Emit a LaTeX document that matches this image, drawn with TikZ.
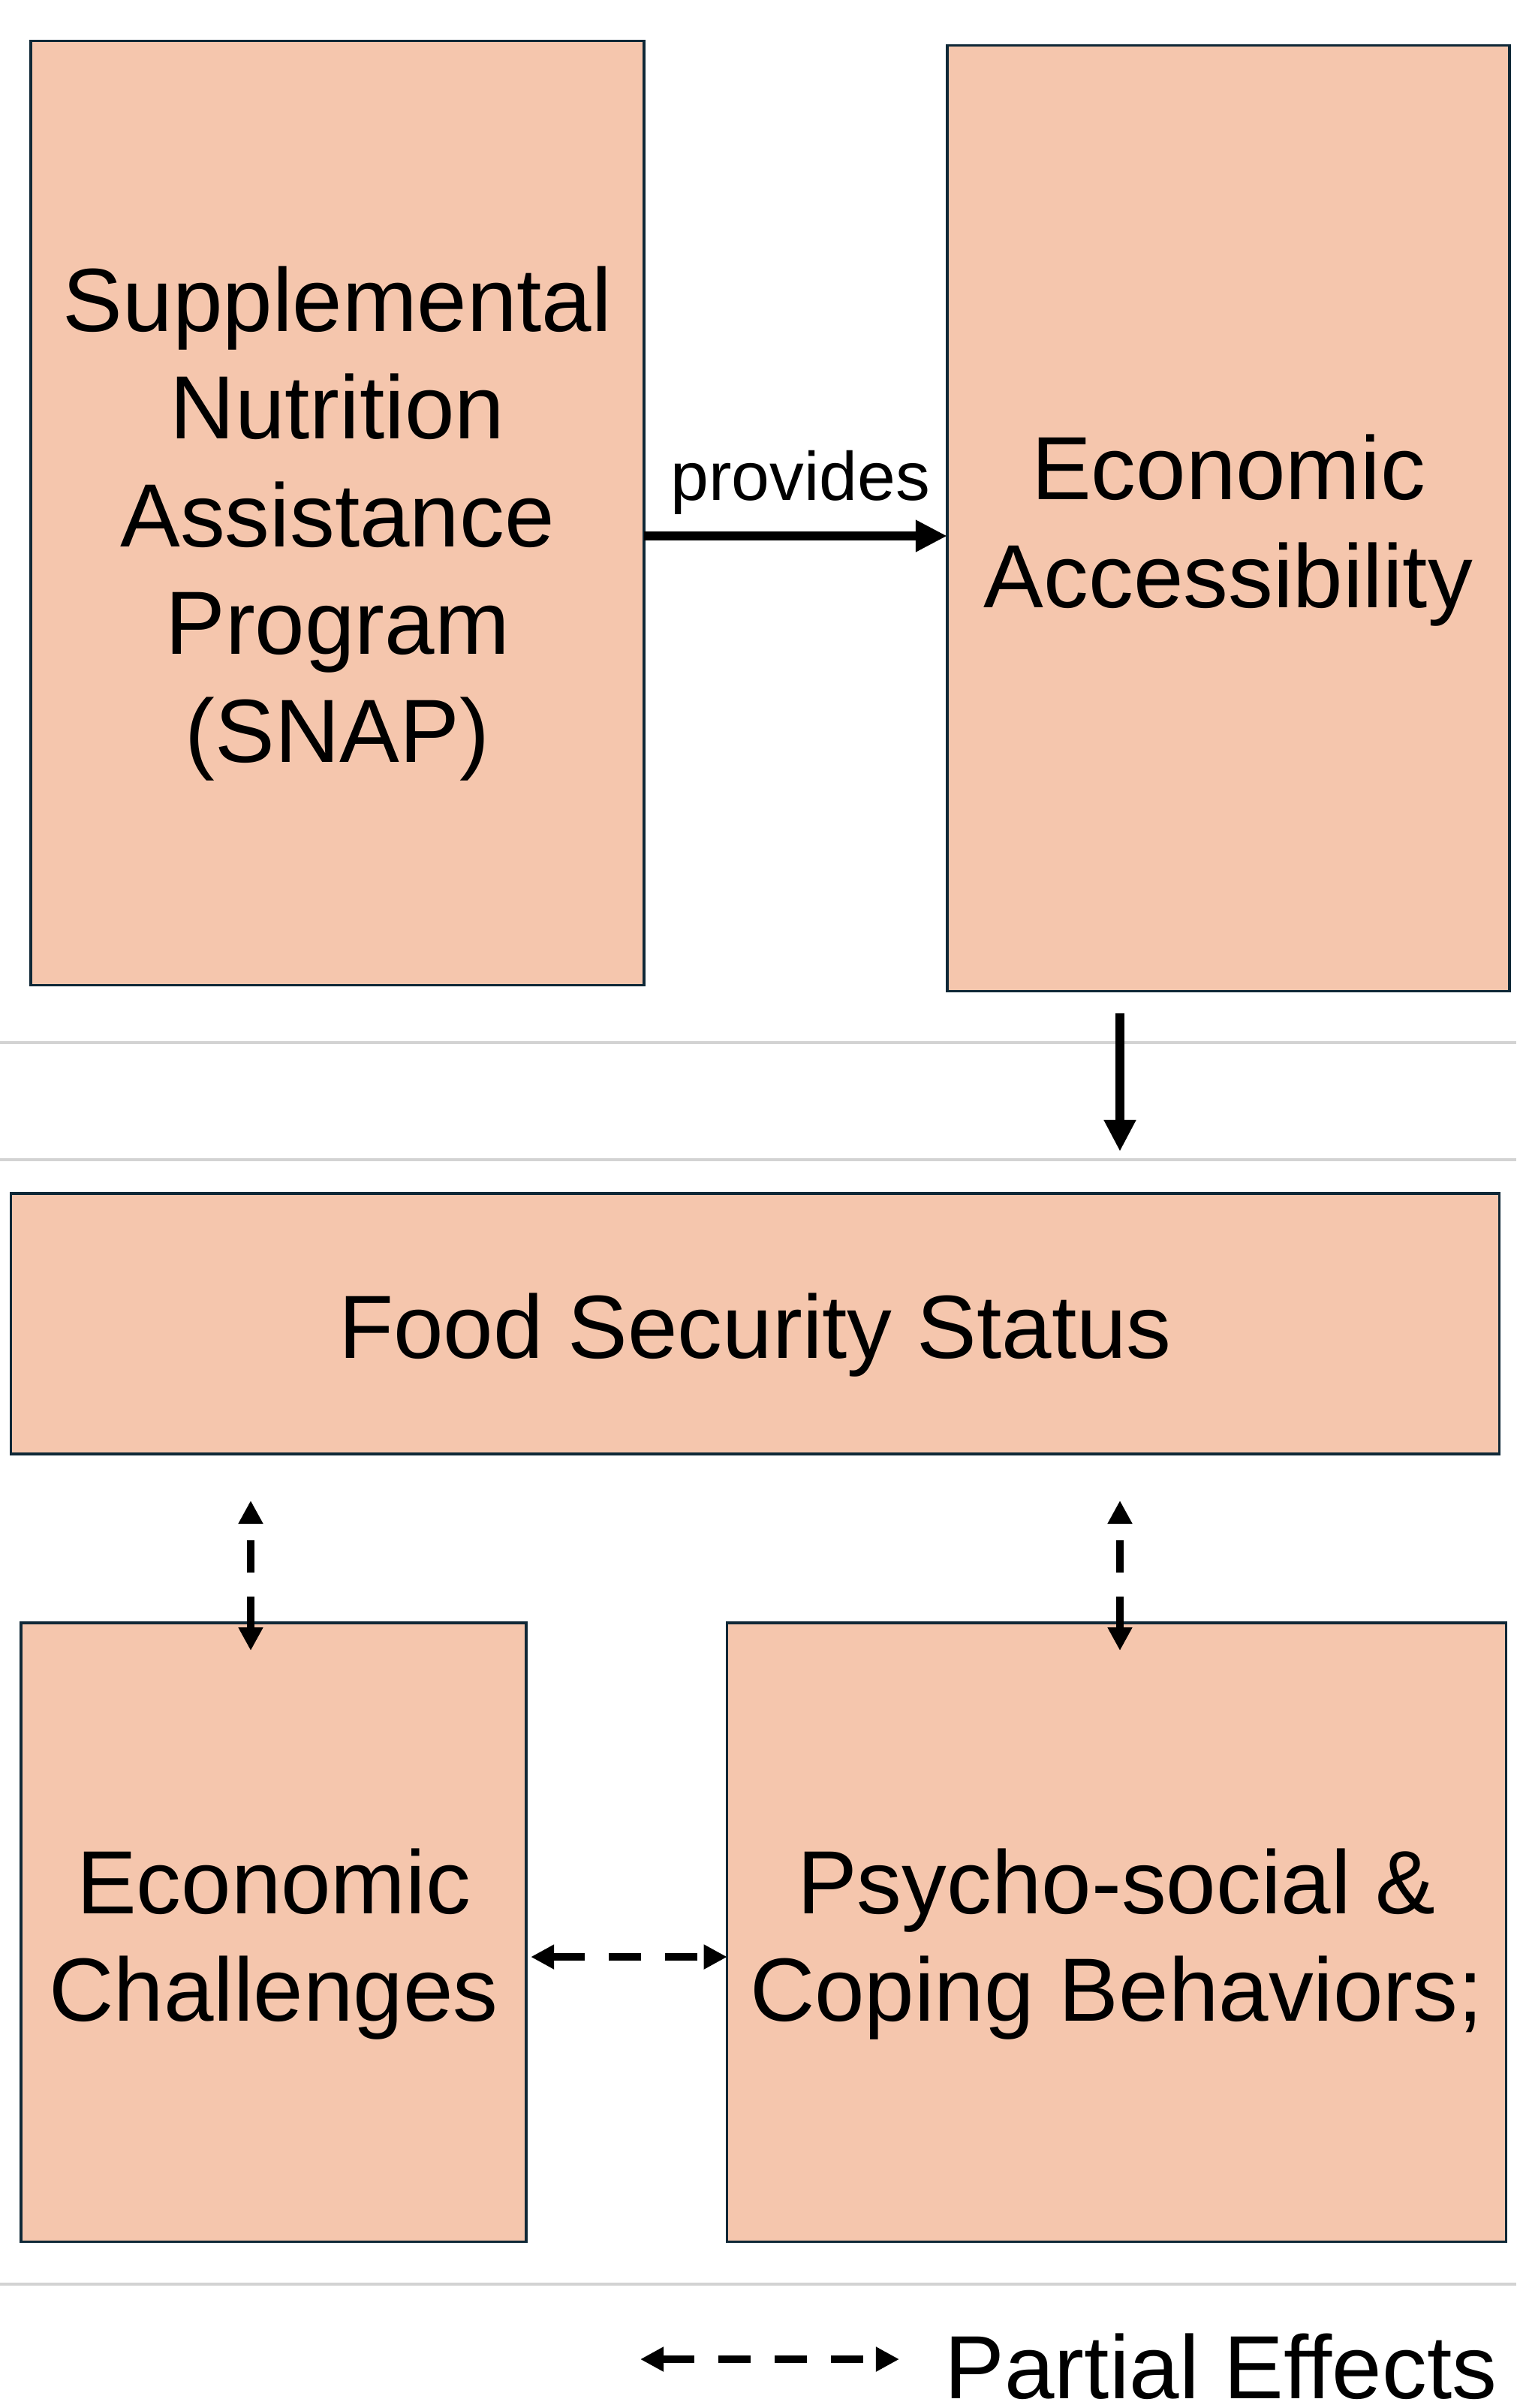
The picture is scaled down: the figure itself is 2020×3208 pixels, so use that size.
\documentclass[tikz,border=0pt]{standalone}
\usepackage{fontspec}
\setmainfont{Liberation Sans}
\usetikzlibrary{arrows.meta,calc}
\definecolor{boxfill}{HTML}{F5C6AD}
\definecolor{boxline}{HTML}{0F2837}
\definecolor{sepgrey}{HTML}{D3D3D3}
\begin{document}
\begin{tikzpicture}[x=0.01cm,y=-0.01cm,
  box/.style={draw=boxline,fill=boxfill,line width=0.035cm,inner sep=0pt,outer sep=0pt},
  boxtext/.style={font=\fontsize{34}{40.8}\selectfont,align=center,inner sep=0pt,text=black},
  solidarrow/.style={line width=0.12cm,-{Triangle[length=0.42cm,width=0.40cm]}},
  partial/.style={line width=0.10cm,dash pattern=on 0.43cm off 0.32cm,
    {Triangle[length=0.31cm,width=0.31cm]}-{Triangle[length=0.31cm,width=0.31cm]}},
  sepline/.style={draw=sepgrey,line width=0.04cm}]
\fill[white] (0,0) rectangle (2020,3208);
\useasboundingbox (0,0) rectangle (2020,3208);

% separator lines
\draw[sepline] (0,1389) -- (2020,1389);
\draw[sepline] (0,1545) -- (2020,1545);
\draw[sepline] (0,3043) -- (2020,3043);

% boxes
\node[box,minimum width=8.17cm,minimum height=12.57cm] (snap) at (449.5,683.5) {};
\node[boxtext] (snaptext) at ([yshift=-0.14cm]snap.center) {Supplemental\\Nutrition\\Assistance\\Program\\(SNAP)};

\node[box,minimum width=7.49cm,minimum height=12.59cm] (ea) at (1636.5,690.5) {};
\node[boxtext] (eatext) at ([yshift=-0.16cm]ea.center) {Economic\\Accessibility};

\node[box,minimum width=19.82cm,minimum height=3.47cm] (food) at (1006,1763.5) {};
\node[boxtext] (foodtext) at ([yshift=-0.15cm]food.center) {Food Security Status};

\node[box,minimum width=6.73cm,minimum height=8.24cm] (econ) at (364.5,2574) {};
\node[boxtext] (econtext) at ([yshift=-0.16cm]econ.center) {Economic\\Challenges};

\node[box,minimum width=10.37cm,minimum height=8.24cm] (psy) at (1487.5,2574) {};
\node[boxtext] (psytext) at ([yshift=-0.16cm]psy.center) {Psycho-social \&\\Coping Behaviors;};

% provides arrow
\coordinate (pa) at ([yshift=-0.305cm]snap.east);
\draw[solidarrow] (pa) -- (pa -| ea.west)
  node[midway,anchor=base,yshift=0.48cm,xshift=0.06cm,inner sep=0pt,
       font=\fontsize{26}{31}\selectfont] (provlabel) {provides};

% down arrow
\coordinate (eaout) at (1492,1350);
\coordinate (foodin) at (1492,1534);
\draw[solidarrow] (eaout) -- (foodin);

% partial effects arrows
\coordinate (ectop) at (334,2199);
\coordinate (fsleft) at (334,1999);
\draw[partial] (ectop) -- (fsleft);

\coordinate (psytop) at (1492,2199);
\coordinate (fsright) at (1492,1999);
\draw[partial] (psytop) -- (fsright);

\coordinate (hx) at ([xshift=0.06cm,yshift=-0.33cm]econ.east);
\draw[partial] (hx) -- (hx -| psy.west);

% legend
\coordinate (lgA) at (853,3143);
\coordinate (lgB) at (1198,3143);
\draw[partial] (lgA) -- (lgB);
\node[anchor=base west,inner sep=0pt,font=\fontsize{34}{40.8}\selectfont] (legtext) at (1258,3195) {Partial Effects};
\end{tikzpicture}
\end{document}
